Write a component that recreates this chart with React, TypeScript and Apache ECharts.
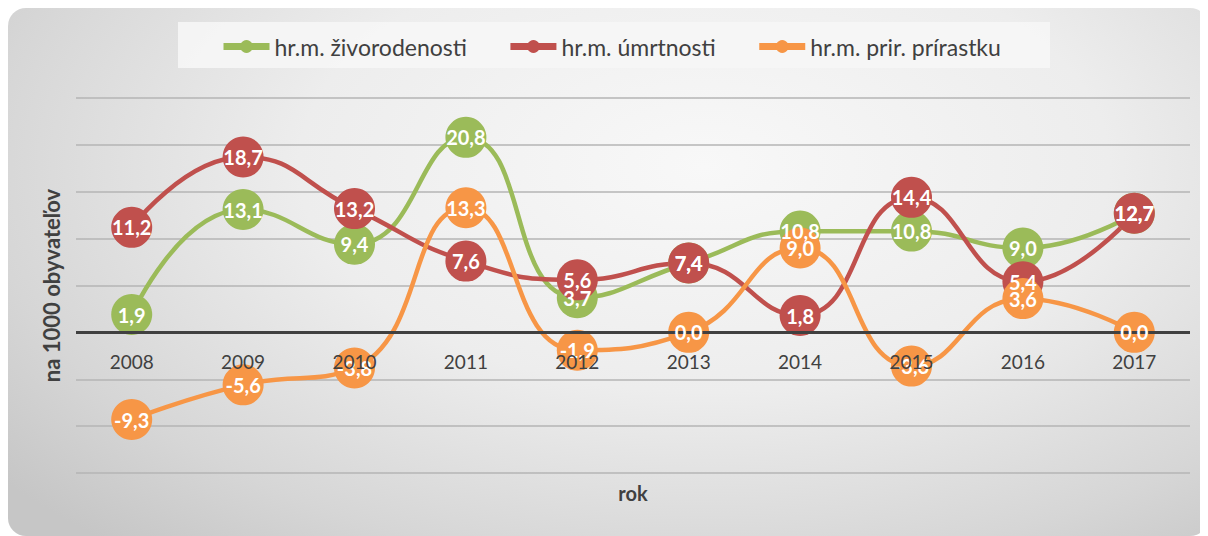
import React, { useEffect, useRef } from "react";
import * as echarts from "echarts";

const years = ["2008", "2009", "2010", "2011", "2012", "2013", "2014", "2015", "2016", "2017"];
const birthRate = [1.9, 13.1, 9.4, 20.8, 3.7, 7.4, 10.8, 10.8, 9.0, 12.7];
const deathRate = [11.2, 18.7, 13.2, 7.6, 5.6, 7.4, 1.8, 14.4, 5.4, 12.7];
const growthRate = [-9.3, -5.6, -3.8, 13.3, -1.9, 0.0, 9.0, -3.6, 3.6, 0.0];
const seriesNames = ["hr.m. živorodenosti", "hr.m. úmrtnosti", "hr.m. prir. prírastku"];
const seriesColors = ["#9BBB59", "#C0504D", "#F79646"];
const seriesData = [birthRate, deathRate, growthRate];

const FONT = "Lato, 'Open Sans', sans-serif";

export default function App() {
  const ref = useRef<HTMLDivElement>(null);
  useEffect(() => {
    if (!ref.current) return;
    const chart = echarts.init(ref.current, undefined, { renderer: "svg" });
    const fmt = (p: any) => Number(p.value).toFixed(1).replace(".", ",");
    const lineSeries = seriesData.map((d, i) => ({
      name: seriesNames[i],
      type: "line",
      data: d,
      smooth: 0.5,
      symbol: "circle",
      symbolSize: 41,
      showSymbol: true,
      lineStyle: { color: seriesColors[i], width: 4.5 },
      itemStyle: { color: seriesColors[i], borderWidth: 0 },
      label: { show: false },
      z: 2,
    }));
    const labelSeries = seriesData.map((d, i) => ({
      name: "lbl" + i,
      type: "scatter",
      data: d,
      symbol: "circle",
      symbolSize: 41,
      itemStyle: { color: "rgba(0,0,0,0)", opacity: 1 },
      label: {
        show: true,
        position: "inside",
        formatter: fmt,
        color: "#ffffff",
        opacity: 1,
        fontFamily: FONT,
        fontWeight: "bold",
        fontSize: 20,
      },
      silent: true,
      z: 5,
    }));
    const zeroLine = {
      name: "zero",
      type: "line",
      data: [],
      z: 1,
      silent: true,
      markLine: {
        silent: true,
        symbol: "none",
        label: { show: false },
        lineStyle: { color: "#404040", width: 3, type: "solid", opacity: 1 },
        data: [{ yAxis: 0 }],
      },
    };
    const yearLabels = {
      name: "years",
      type: "scatter",
      data: years.map((y) => [y, 0]),
      symbol: "circle",
      symbolSize: 2,
      itemStyle: { color: "rgba(0,0,0,0)", opacity: 1 },
      label: {
        show: true,
        position: "inside",
        offset: [0, 29],
        formatter: (p: any) => p.value[0],
        color: "#404040",
        opacity: 1,
        fontSize: 19,
        fontFamily: FONT,
      },
      silent: true,
      z: 20,
    };
    chart.setOption({
      animation: false,
      textStyle: { fontFamily: FONT },
      graphic: [
        {
          type: "rect",
          shape: { x: 170, y: 14, width: 872, height: 46 },
          style: { fill: "rgba(246,246,246,0.9)" },
          z: 0,
        },
        {
          type: "text",
          x: 625,
          y: 485,
          style: {
            text: "rok",
            fill: "#404040",
            font: "bold 20px Lato, 'Open Sans', sans-serif",
            textAlign: "center",
            textVerticalAlign: "middle",
          },
          z: 5,
        },
      ],
      legend: {
        data: seriesNames,
        left: 207,
        top: 22,
        itemWidth: 46,
        itemHeight: 16,
        itemGap: 40,
        lineStyle: { width: 7 },
        textStyle: { color: "#404040", fontSize: 23, fontFamily: FONT },
        z: 4,
      },
      grid: { left: 68, right: 18, top: 90, bottom: 63, containLabel: false, outerBoundsMode: "none" },
      xAxis: {
        type: "category",
        data: years,
        boundaryGap: true,
        axisLine: { show: false, onZero: true },
        axisTick: { show: false },
        axisLabel: { show: false },
        splitLine: { show: false },
      },
      yAxis: {
        type: "value",
        min: -15,
        max: 25,
        interval: 5,
        axisLine: { show: false },
        axisTick: { show: false },
        axisLabel: { show: false },
        splitLine: { show: true, lineStyle: { color: "#b4b4b4", width: 1.5 } },
        name: "na 1000 obyvateľov",
        nameLocation: "middle",
        nameRotate: 90,
        nameGap: 14,
        nameTextStyle: { color: "#404040", fontWeight: "bold", fontSize: 22, fontFamily: FONT },
      },
      series: [zeroLine, ...lineSeries, ...labelSeries, yearLabels],
    });
    return () => chart.dispose();
  }, []);
  return (
    <div
      ref={ref}
      style={{
        width: 1200,
        height: 528,
        borderRadius: 18,
        background:
          "radial-gradient(ellipse 75% 95% at 58% 30%, #f8f8f8 0%, #ededed 45%, #d6d6d6 80%, #c6c6c6 100%)",
      }}
    />
  );
}
